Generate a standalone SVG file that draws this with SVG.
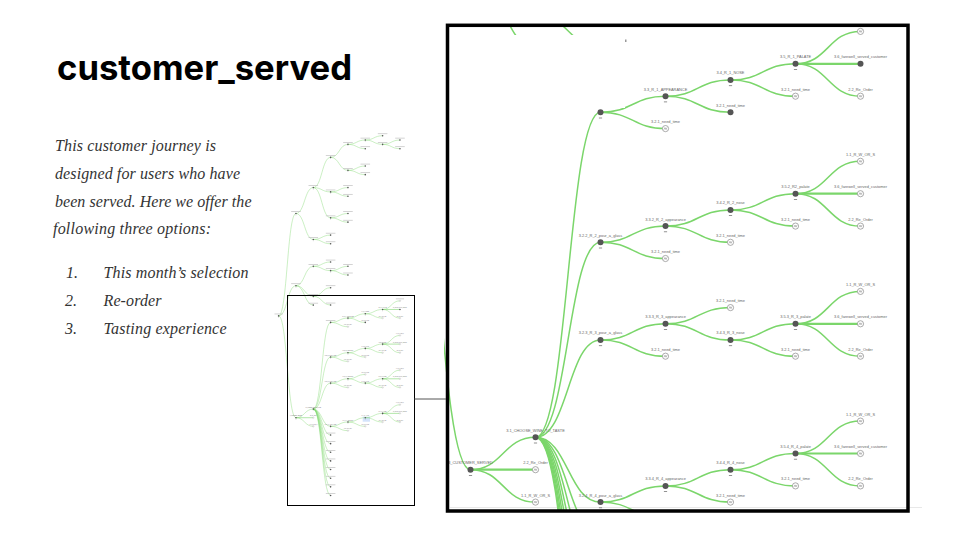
<svg xmlns="http://www.w3.org/2000/svg" xmlns:xlink="http://www.w3.org/1999/xlink" width="960" height="540" viewBox="0 0 960 540">
<style>
.e{fill:none;stroke:#7bd66b;stroke-width:1.5}
.es{fill:none;stroke:#7bd66b;stroke-width:2.2}
.lbl{font-family:"Liberation Sans",Arial,sans-serif;font-size:3.9px;fill:#666;text-anchor:middle}
.bar{fill:#bbb}
.body{font-family:"Liberation Serif","Times New Roman",serif;font-style:italic;font-size:16px;fill:#333}
.title{font-family:Inter,"Liberation Sans",Arial,sans-serif;font-weight:700;font-size:35px;fill:#000}
</style>
<defs>
<g id="int"><circle r="3" fill="#555"/><rect x="-1.6" y="5.3" width="3.2" height="0.8" fill="#777"/></g>
<g id="fil"><circle r="3" fill="#555"/></g>
<g id="hol"><circle r="3.1" fill="#fff" stroke="#888" stroke-width="0.7"/><path d="M-1.5,1 L-0.5,-1 L0.5,1 L1.5,-1" fill="none" stroke="#777" stroke-width="0.5"/></g>
<clipPath id="pc"><rect x="444" y="24" width="464" height="486"/></clipPath>
</defs>
<rect width="960" height="540" fill="#fff"/>

<!-- left text -->
<text class="title" x="57" y="79.5" textLength="295" lengthAdjust="spacingAndGlyphs">customer_served</text>
<text class="body" x="55" y="151" textLength="161" lengthAdjust="spacing">This customer journey is</text>
<text class="body" x="55" y="178.5" textLength="185" lengthAdjust="spacing">designed for users who have</text>
<text class="body" x="55" y="206.5" textLength="196.5" lengthAdjust="spacing">been served. Here we offer the</text>
<text class="body" x="53" y="234" textLength="158" lengthAdjust="spacing">following three options:</text>
<text class="body" x="66" y="277.5">1.</text>
<text class="body" x="103.5" y="277.5" textLength="145" lengthAdjust="spacing">This month’s selection</text>
<text class="body" x="65" y="305.5">2.</text>
<text class="body" x="103.5" y="305.5" textLength="58" lengthAdjust="spacing">Re-order</text>
<text class="body" x="65" y="333.5">3.</text>
<text class="body" x="103.5" y="333.5" textLength="123" lengthAdjust="spacing">Tasting experience</text>

<!-- big panel -->
<line x1="450" y1="507.5" x2="922" y2="507.5" stroke="#e8e8e8" stroke-width="1"/>
<g clip-path="url(#pc)">
<g id="tree">
<g id="connectors">
<path class="e" d="M405.5,88C438,88 438,-296 470.5,-296"/>
<path class="e" d="M405.5,88C438,88 438,-25.3 470.5,-25.3"/>
<path class="e" d="M405.5,88C438,88 438,469.7 470.5,469.7"/>
<path class="e" d="M470.5,-296C503,-296 503,-393.2 535.5,-393.2"/>
<path class="e" d="M470.5,-296C503,-296 503,-198.8 535.5,-198.8"/>
<path class="e" d="M535.5,-393.2C568,-393.2 568,-506.6 600.5,-506.6"/>
<path class="e" d="M535.5,-393.2C568,-393.2 568,-377 600.5,-377"/>
<path class="e" d="M535.5,-393.2C568,-393.2 568,-279.8 600.5,-279.8"/>
<path class="e" d="M600.5,-506.6C633,-506.6 633,-555.3 665.5,-555.3"/>
<path class="e" d="M600.5,-506.6C633,-506.6 633,-457.9 665.5,-457.9"/>
<path class="e" d="M665.5,-555.3C698,-555.3 698,-571.5 730.5,-571.5"/>
<path class="e" d="M665.5,-555.3C698,-555.3 698,-539.1 730.5,-539.1"/>
<path class="e" d="M730.5,-571.5C763,-571.5 763,-587.7 795.5,-587.7"/>
<path class="e" d="M730.5,-571.5C763,-571.5 763,-555.3 795.5,-555.3"/>
<path class="e" d="M795.5,-555.3C828,-555.3 828,-571.5 860.5,-571.5"/>
<path class="e" d="M795.5,-555.3C828,-555.3 828,-539.1 860.5,-539.1"/>
<path class="e" d="M665.5,-457.9C698,-457.9 698,-474.1 730.5,-474.1"/>
<path class="e" d="M665.5,-457.9C698,-457.9 698,-441.7 730.5,-441.7"/>
<path class="e" d="M600.5,-377C633,-377 633,-393.2 665.5,-393.2"/>
<path class="e" d="M600.5,-377C633,-377 633,-360.8 665.5,-360.8"/>
<path class="e" d="M600.5,-279.8C633,-279.8 633,-296 665.5,-296"/>
<path class="e" d="M600.5,-279.8C633,-279.8 633,-263.6 665.5,-263.6"/>
<path class="e" d="M535.5,-198.8C568,-198.8 568,-215 600.5,-215"/>
<path class="e" d="M535.5,-198.8C568,-198.8 568,-182.6 600.5,-182.6"/>
<path class="e" d="M470.5,-25.3C503,-25.3 503,-98 535.5,-98"/>
<path class="e" d="M470.5,-25.3C503,-25.3 503,14.6 535.5,14.6"/>
<path class="e" d="M470.5,-25.3C503,-25.3 503,47.4 535.5,47.4"/>
<path class="e" d="M535.5,-98C568,-98 568,-114.2 600.5,-114.2"/>
<path class="e" d="M535.5,-98C568,-98 568,-81.8 600.5,-81.8"/>
<path class="e" d="M600.5,-81.8C633,-81.8 633,-98 665.5,-98"/>
<path class="e" d="M600.5,-81.8C633,-81.8 633,-65.6 665.5,-65.6"/>
<path class="e" d="M535.5,14.6C568,14.6 568,-17.8 600.5,-17.8"/>
<path class="e" d="M535.5,14.6C568,14.6 568,47 600.5,47"/>
<path class="e" d="M470.5,469.7C503,469.7 503,437.3 535.5,437.3"/>
<path class="es" d="M470.5,469.7L535.5,469.7"/>
<path class="e" d="M470.5,469.7C503,469.7 503,502.1 535.5,502.1"/>
<path class="e" d="M535.5,437.3C568,437.3 568,112.3 600.5,112.3"/>
<path class="e" d="M535.5,437.3C568,437.3 568,242.3 600.5,242.3"/>
<path class="e" d="M535.5,437.3C568,437.3 568,340 600.5,340"/>
<path class="e" d="M535.5,437.3C568,437.3 568,502.1 600.5,502.1"/>
<path class="e" d="M535.5,437.3C568,437.3 568,534.5 600.5,534.5"/>
<path class="e" d="M535.5,437.3C568,437.3 568,566.9 600.5,566.9"/>
<path class="e" d="M535.5,437.3C568,437.3 568,599.3 600.5,599.3"/>
<path class="e" d="M535.5,437.3C568,437.3 568,631.7 600.5,631.7"/>
<path class="e" d="M535.5,437.3C568,437.3 568,664.1 600.5,664.1"/>
<path class="e" d="M535.5,437.3C568,437.3 568,696.5 600.5,696.5"/>
<path class="e" d="M535.5,437.3C568,437.3 568,728.9 600.5,728.9"/>
<path class="e" d="M535.5,437.3C568,437.3 568,761.3 600.5,761.3"/>
<path class="e" d="M600.5,112.3C633,112.3 633,96.2 665.5,96.2"/>
<path class="e" d="M600.5,112.3C633,112.3 633,128.6 665.5,128.6"/>
<path class="e" d="M665.5,96.2C698,96.2 698,80 730.5,80"/>
<path class="e" d="M665.5,96.2C698,96.2 698,112.3 730.5,112.3"/>
<path class="e" d="M730.5,80C763,80 763,63.8 795.5,63.8"/>
<path class="e" d="M730.5,80C763,80 763,96.2 795.5,96.2"/>
<path class="e" d="M795.5,63.8C828,63.8 828,31.4 860.5,31.4"/>
<path class="es" d="M795.5,63.8L860.5,63.8"/>
<path class="e" d="M795.5,63.8C828,63.8 828,96.2 860.5,96.2"/>
<path class="e" d="M600.5,242.3C633,242.3 633,226.1 665.5,226.1"/>
<path class="e" d="M600.5,242.3C633,242.3 633,258.5 665.5,258.5"/>
<path class="e" d="M665.5,226.1C698,226.1 698,209.9 730.5,209.9"/>
<path class="e" d="M665.5,226.1C698,226.1 698,242.3 730.5,242.3"/>
<path class="e" d="M730.5,209.9C763,209.9 763,193.7 795.5,193.7"/>
<path class="e" d="M730.5,209.9C763,209.9 763,226.1 795.5,226.1"/>
<path class="e" d="M795.5,193.7C828,193.7 828,161.3 860.5,161.3"/>
<path class="es" d="M795.5,193.7L860.5,193.7"/>
<path class="e" d="M795.5,193.7C828,193.7 828,226.1 860.5,226.1"/>
<path class="e" d="M600.5,340C633,340 633,323.8 665.5,323.8"/>
<path class="e" d="M600.5,340C633,340 633,356.2 665.5,356.2"/>
<path class="e" d="M665.5,323.8C698,323.8 698,307.6 730.5,307.6"/>
<path class="e" d="M665.5,323.8C698,323.8 698,340 730.5,340"/>
<path class="e" d="M730.5,340C763,340 763,323.8 795.5,323.8"/>
<path class="e" d="M730.5,340C763,340 763,356.2 795.5,356.2"/>
<path class="e" d="M795.5,323.8C828,323.8 828,291.4 860.5,291.4"/>
<path class="es" d="M795.5,323.8L860.5,323.8"/>
<path class="e" d="M795.5,323.8C828,323.8 828,356.2 860.5,356.2"/>
<path class="e" d="M600.5,502.1C633,502.1 633,485.9 665.5,485.9"/>
<path class="e" d="M600.5,502.1C633,502.1 633,518.3 665.5,518.3"/>
<path class="e" d="M665.5,485.9C698,485.9 698,469.7 730.5,469.7"/>
<path class="e" d="M665.5,485.9C698,485.9 698,502.1 730.5,502.1"/>
<path class="e" d="M730.5,469.7C763,469.7 763,453.5 795.5,453.5"/>
<path class="e" d="M730.5,469.7C763,469.7 763,485.9 795.5,485.9"/>
<path class="e" d="M795.5,453.5C828,453.5 828,421.1 860.5,421.1"/>
<path class="es" d="M795.5,453.5L860.5,453.5"/>
<path class="e" d="M795.5,453.5C828,453.5 828,485.9 860.5,485.9"/>
</g>
<g id="nodes">
<g id="root"><use href="#int" x="405.5" y="88"/><rect class="bar" x="390" y="79.5" width="31" height="2.4"/></g>
<g id="t1"><use href="#int" x="470.5" y="-296"/><rect class="bar" x="452.5" y="-304.5" width="36" height="2.4"/></g>
<g id="t11"><use href="#int" x="535.5" y="-393.2"/><rect class="bar" x="517.5" y="-401.7" width="36" height="2.4"/></g>
<g id="t111"><use href="#int" x="600.5" y="-506.6"/><rect class="bar" x="582.5" y="-515.1" width="36" height="2.4"/></g>
<g id="t1111"><use href="#int" x="665.5" y="-555.3"/><rect class="bar" x="647.5" y="-563.8" width="36" height="2.4"/></g>
<g id="t11111"><use href="#int" x="730.5" y="-571.5"/><rect class="bar" x="712.5" y="-580" width="36" height="2.4"/></g>
<g id="t1a"><use href="#fil" x="795.5" y="-587.7"/><rect class="bar" x="777.5" y="-596.2" width="36" height="2.4"/></g>
<g id="t111112"><use href="#int" x="795.5" y="-555.3"/><rect class="bar" x="777.5" y="-563.8" width="36" height="2.4"/></g>
<g id="t1b"><use href="#fil" x="860.5" y="-571.5"/><rect class="bar" x="842.5" y="-580" width="36" height="2.4"/></g>
<g id="t1c"><use href="#fil" x="860.5" y="-539.1"/><rect class="bar" x="842.5" y="-547.6" width="36" height="2.4"/></g>
<g id="t1d"><use href="#fil" x="730.5" y="-539.1"/><rect class="bar" x="712.5" y="-547.6" width="36" height="2.4"/></g>
<g id="t1112"><use href="#int" x="665.5" y="-457.9"/><rect class="bar" x="647.5" y="-466.4" width="36" height="2.4"/></g>
<g id="t1e"><use href="#fil" x="730.5" y="-474.1"/><rect class="bar" x="712.5" y="-482.6" width="36" height="2.4"/></g>
<g id="t1f"><use href="#fil" x="730.5" y="-441.7"/><rect class="bar" x="712.5" y="-450.2" width="36" height="2.4"/></g>
<g id="t112"><use href="#int" x="600.5" y="-377"/><rect class="bar" x="582.5" y="-385.5" width="36" height="2.4"/></g>
<g id="t1g"><use href="#fil" x="665.5" y="-393.2"/><rect class="bar" x="647.5" y="-401.7" width="36" height="2.4"/></g>
<g id="t1h"><use href="#fil" x="665.5" y="-360.8"/><rect class="bar" x="647.5" y="-369.3" width="36" height="2.4"/></g>
<g id="t113"><use href="#int" x="600.5" y="-279.8"/><rect class="bar" x="582.5" y="-288.3" width="36" height="2.4"/></g>
<g id="t1i"><use href="#fil" x="665.5" y="-296"/><rect class="bar" x="647.5" y="-304.5" width="36" height="2.4"/></g>
<g id="t1j"><use href="#fil" x="665.5" y="-263.6"/><rect class="bar" x="647.5" y="-272.1" width="36" height="2.4"/></g>
<g id="t12"><use href="#int" x="535.5" y="-198.8"/><rect class="bar" x="517.5" y="-207.3" width="36" height="2.4"/></g>
<g id="t1k"><use href="#fil" x="600.5" y="-215"/><rect class="bar" x="582.5" y="-223.5" width="36" height="2.4"/></g>
<g id="t1l"><use href="#fil" x="600.5" y="-182.6"/><rect class="bar" x="582.5" y="-191.1" width="36" height="2.4"/></g>
<g id="t2"><use href="#int" x="470.5" y="-25.3"/><rect class="bar" x="452.5" y="-33.8" width="36" height="2.4"/></g>
<g id="t21"><use href="#int" x="535.5" y="-98"/><rect class="bar" x="517.5" y="-106.5" width="36" height="2.4"/></g>
<g id="t2m"><use href="#fil" x="600.5" y="-114.2"/><rect class="bar" x="582.5" y="-122.7" width="36" height="2.4"/></g>
<g id="t212"><use href="#int" x="600.5" y="-81.8"/><rect class="bar" x="582.5" y="-90.3" width="36" height="2.4"/></g>
<g id="t2o"><use href="#fil" x="665.5" y="-98"/><rect class="bar" x="647.5" y="-106.5" width="36" height="2.4"/></g>
<g id="t2p"><use href="#fil" x="665.5" y="-65.6"/><rect class="bar" x="647.5" y="-74.1" width="36" height="2.4"/></g>
<g id="t22"><use href="#int" x="535.5" y="14.6"/><rect class="bar" x="517.5" y="6.1" width="36" height="2.4"/></g>
<g id="t2q"><use href="#fil" x="600.5" y="-17.8"/><rect class="bar" x="582.5" y="-26.3" width="36" height="2.4"/></g>
<g id="t2r"><use href="#fil" x="600.5" y="47"/><rect class="bar" x="582.5" y="38.5" width="36" height="2.4"/></g>
<g id="t23"><use href="#fil" x="535.5" y="47.4"/><rect class="bar" x="517.5" y="38.9" width="36" height="2.4"/></g>

<g id="n3"><use href="#int" x="470.5" y="469.7"/><text class="lbl" x="470.5" y="464.1">3_CUSTOMER_SERVED</text></g>
<g id="n31"><use href="#int" x="535.5" y="437.3"/><text class="lbl" x="535.5" y="431.7">3.1_CHOOSE_WINE_TO_TASTE</text></g>
<g id="n3-re"><use href="#hol" x="535.5" y="469.7"/><text class="lbl" x="535.5" y="464.1">2.2_Re_Order</text></g>
<g id="n3-rw"><use href="#hol" x="535.5" y="502.1"/><text class="lbl" x="535.5" y="496.5">1.1_R_W_OR_S</text></g>

<g id="a"><use href="#int" x="600.5" y="112.3"/><rect class="bar" x="582.5" y="103.8" width="36" height="2.4"/></g>
<g id="a1"><use href="#int" x="665.5" y="96.2"/><text class="lbl" x="665.5" y="90.6">3.3_R_1_APPEARANCE</text></g>
<g id="a2"><use href="#hol" x="665.5" y="128.6"/><text class="lbl" x="665.5" y="123">3.2.1_need_time</text></g>
<g id="a11"><use href="#int" x="730.5" y="80"/><text class="lbl" x="730.5" y="74.4">3.4_R_1_NOSE</text></g>
<g id="a12"><use href="#fil" x="730.5" y="112.3"/><text class="lbl" x="730.5" y="106.7">3.2.1_need_time</text></g>
<g id="a111"><use href="#int" x="795.5" y="63.8"/><text class="lbl" x="795.5" y="58.2">3.5_R_1_PALATE</text></g>
<g id="a112"><use href="#hol" x="795.5" y="96.2"/><text class="lbl" x="795.5" y="90.6">3.2.1_need_time</text></g>
<g id="a1111"><use href="#hol" x="860.5" y="31.4"/><rect class="bar" x="845" y="23" width="31" height="2.4"/></g>
<g id="a1112"><use href="#fil" x="860.5" y="63.8"/><text class="lbl" x="860.5" y="58.2">3.6_farewell_served_customer</text></g>
<g id="a1113"><use href="#hol" x="860.5" y="96.2"/><text class="lbl" x="860.5" y="90.6">2.2_Re_Order</text></g>

<g id="b"><use href="#int" x="600.5" y="242.3"/><text class="lbl" x="600.5" y="236.7">3.2.2_R_2_pour_a_glass</text></g>
<g id="b1"><use href="#int" x="665.5" y="226.1"/><text class="lbl" x="665.5" y="220.5">3.3.2_R_2_appearance</text></g>
<g id="b2"><use href="#hol" x="665.5" y="258.5"/><text class="lbl" x="665.5" y="252.9">3.2.1_need_time</text></g>
<g id="b11"><use href="#int" x="730.5" y="209.9"/><text class="lbl" x="730.5" y="204.3">3.4.2_R_2_nose</text></g>
<g id="b12"><use href="#hol" x="730.5" y="242.3"/><text class="lbl" x="730.5" y="236.7">3.2.1_need_time</text></g>
<g id="b111"><use href="#int" x="795.5" y="193.7"/><text class="lbl" x="795.5" y="188.1">3.5.2_R2_palate</text></g>
<g id="b112"><use href="#hol" x="795.5" y="226.1"/><text class="lbl" x="795.5" y="220.5">3.2.1_need_time</text></g>
<g id="b1111"><use href="#hol" x="860.5" y="161.3"/><text class="lbl" x="860.5" y="155.7">1.1_R_W_OR_S</text></g>
<g id="b1112"><use href="#hol" x="860.5" y="193.7"/><text class="lbl" x="860.5" y="188.1">3.6_farewell_served_customer</text></g>
<g id="b1113"><use href="#hol" x="860.5" y="226.1"/><text class="lbl" x="860.5" y="220.5">2.2_Re_Order</text></g>

<g id="c"><use href="#int" x="600.5" y="340"/><text class="lbl" x="600.5" y="334.4">3.2.3_R_3_pour_a_glass</text></g>
<g id="c1"><use href="#int" x="665.5" y="323.8"/><text class="lbl" x="665.5" y="318.2">3.3.3_R_3_appearance</text></g>
<g id="c2"><use href="#hol" x="665.5" y="356.2"/><text class="lbl" x="665.5" y="350.6">3.2.1_need_time</text></g>
<g id="c11"><use href="#hol" x="730.5" y="307.6"/><text class="lbl" x="730.5" y="302">3.2.1_need_time</text></g>
<g id="c12"><use href="#int" x="730.5" y="340"/><text class="lbl" x="730.5" y="334.4">3.4.3_R_3_nose</text></g>
<g id="c121"><use href="#int" x="795.5" y="323.8"/><text class="lbl" x="795.5" y="318.2">3.5.3_R_3_palate</text></g>
<g id="c122"><use href="#hol" x="795.5" y="356.2"/><text class="lbl" x="795.5" y="350.6">3.2.1_need_time</text></g>
<g id="c1211"><use href="#hol" x="860.5" y="291.4"/><text class="lbl" x="860.5" y="285.8">1.1_R_W_OR_S</text></g>
<g id="c1212"><use href="#hol" x="860.5" y="323.8"/><text class="lbl" x="860.5" y="318.2">3.6_farewell_served_customer</text></g>
<g id="c1213"><use href="#hol" x="860.5" y="356.2"/><text class="lbl" x="860.5" y="350.6">2.2_Re_Order</text></g>

<g id="d"><use href="#int" x="600.5" y="502.1"/><text class="lbl" x="600.5" y="496.5">3.2.4_R_4_pour_a_glass</text></g>
<g id="d1"><use href="#int" x="665.5" y="485.9"/><text class="lbl" x="665.5" y="480.3">3.3.4_R_4_appearance</text></g>
<g id="d2"><use href="#hol" x="665.5" y="518.3"/><text class="lbl" x="665.5" y="512.7">3.2.1_need_time</text></g>
<g id="d11"><use href="#int" x="730.5" y="469.7"/><text class="lbl" x="730.5" y="464.1">3.4.4_R_4_nose</text></g>
<g id="d12"><use href="#hol" x="730.5" y="502.1"/><text class="lbl" x="730.5" y="496.5">3.2.1_need_time</text></g>
<g id="d111"><use href="#int" x="795.5" y="453.5"/><text class="lbl" x="795.5" y="447.9">3.5.4_R_4_palate</text></g>
<g id="d112"><use href="#hol" x="795.5" y="485.9"/><text class="lbl" x="795.5" y="480.3">3.2.1_need_time</text></g>
<g id="d1111"><use href="#hol" x="860.5" y="421.1"/><text class="lbl" x="860.5" y="415.5">1.1_R_W_OR_S</text></g>
<g id="d1112"><use href="#hol" x="860.5" y="453.5"/><text class="lbl" x="860.5" y="447.9">3.6_farewell_served_customer</text></g>
<g id="d1113"><use href="#hol" x="860.5" y="485.9"/><text class="lbl" x="860.5" y="480.3">2.2_Re_Order</text></g>

<g id="x1"><use href="#fil" x="600.5" y="534.5"/><rect class="bar" x="582.5" y="526" width="36" height="2.4"/></g>
<g id="x2"><use href="#fil" x="600.5" y="566.9"/><rect class="bar" x="582.5" y="558.4" width="36" height="2.4"/></g>
<g id="x3"><use href="#fil" x="600.5" y="599.3"/><rect class="bar" x="582.5" y="590.8" width="36" height="2.4"/></g>
<g id="x4"><use href="#fil" x="600.5" y="631.7"/><rect class="bar" x="582.5" y="623.2" width="36" height="2.4"/></g>
<g id="x5"><use href="#fil" x="600.5" y="664.1"/><rect class="bar" x="582.5" y="655.6" width="36" height="2.4"/></g>
<g id="x6"><use href="#fil" x="600.5" y="696.5"/><rect class="bar" x="582.5" y="688" width="36" height="2.4"/></g>
<g id="x7"><use href="#fil" x="600.5" y="728.9"/><rect class="bar" x="582.5" y="720.4" width="36" height="2.4"/></g>
<g id="x8"><use href="#fil" x="600.5" y="761.3"/><rect class="bar" x="582.5" y="752.8" width="36" height="2.4"/></g>
</g>
</g>
<rect x="444" y="35" width="181" height="73" fill="#fff"/>
<rect x="625" y="39.5" width="1.5" height="2.5" fill="#999"/>
</g>
<rect x="447.5" y="25.3" width="460.5" height="485.7" fill="none" stroke="#000" stroke-width="3.5"/>

<!-- thumbnail -->
<g id="thumbnail">
<rect x="362.7" y="416.7" width="7.3" height="5" fill="#d3e3fb"/>
<g transform="matrix(0.26667,0,0,0.26667,170.48,292.45)"><use href="#tree"/></g>
<rect x="287.5" y="295.5" width="127" height="210" fill="none" stroke="#000" stroke-width="1"/>
</g>
<line x1="414.5" y1="399" x2="446" y2="399" stroke="#555" stroke-width="1"/>
</svg>
